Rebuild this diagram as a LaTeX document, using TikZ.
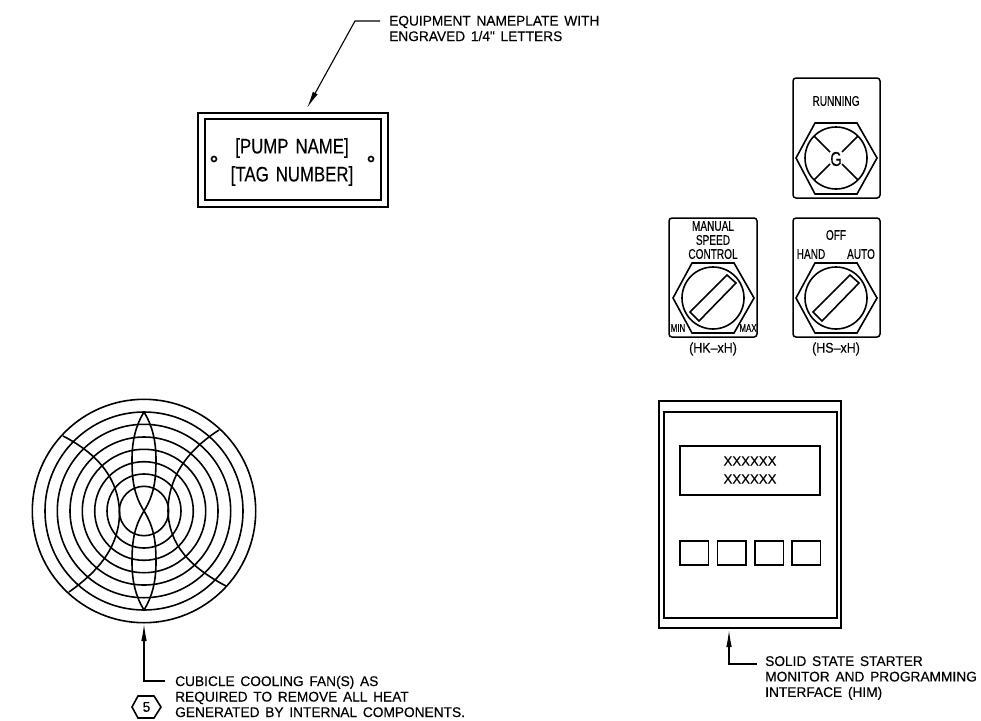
\documentclass[tikz,border=0pt]{standalone}
\usepackage{fontspec}
\setmainfont{Liberation Sans}
\newfontfamily\narrowfont[FakeStretch=0.72,FakeBold=0.3]{Liberation Sans}
\newfontfamily\tagfont[FakeStretch=0.89,FakeBold=0.2]{Liberation Sans}
\newfontfamily\cadfont[FakeStretch=0.98,WordSpace=1.5,FakeBold=0.3]{Liberation Sans}
\newfontfamily\platefont[FakeStretch=0.8,WordSpace=1.5,FakeBold=0.2]{Liberation Sans}
\usetikzlibrary{positioning,arrows.meta,calc}
\tikzset{>={Latex[length=17pt,width=5.5pt]}}
\tikzset{
  panel/.style={draw,line width=1.5pt,rounded corners=3pt},
  note/.style={font=\cadfont\fontsize{14}{15.5}\selectfont,anchor=west,inner sep=0pt,align=left},
  tiny/.style={font=\narrowfont\fontsize{14}{14}\selectfont,inner sep=0pt},
  small/.style={font=\narrowfont\fontsize{11}{11}\selectfont,inner sep=0pt},
  tagtext/.style={font=\tagfont\fontsize{14}{14}\selectfont,inner sep=0pt},
  plate/.style={font=\platefont\fontsize{21}{21}\selectfont,inner sep=0pt},
  leader/.style={line width=1.1pt},
  heavy/.style={line width=1.6pt}
}
\begin{document}
\begin{tikzpicture}[x=1pt,y=-1pt]
  \useasboundingbox (0,0) rectangle (981,720);
  % nameplate
  \draw[line width=1.7pt] (198,113) rectangle (388,207);
  \draw[line width=1.7pt] (205,119) rectangle (381,200);
  \draw[heavy] (214,159) circle (2.5);
  \draw[heavy] (371,159) circle (2.5);
  \node[plate] (pump) at (292,148) {[PUMP NAME]};
  \node[plate] (tag) at (292,176) {[TAG NUMBER]};
  \coordinate (plateTip) at (307,108);
  \coordinate (plateBend) at (355,21);
  \node[note] (plateNote) at (389,28.5) {EQUIPMENT NAMEPLATE WITH\\ENGRAVED 1/4" LETTERS};
  \draw[leader,<-] (plateTip) -- (plateBend) -- ++(25,0);
  % running light
  \node[panel,minimum width=87pt,minimum height=120pt] (light) at (836.5,138) {};
  \node[tiny] (lightText) at (836,101) {RUNNING};
  \draw[heavy] (796,158) -- (815,123) -- (857,123) -- (877,158) -- (857,194) -- (815,194) -- cycle;
  \draw[heavy] (836,158) circle (31);
  \draw[heavy] (814,136) -- (830,152) (858,136) -- (842,152) (814,180) -- (830,164) (858,180) -- (842,164);
  \node[font=\narrowfont\fontsize{20}{20}\selectfont,inner sep=0pt] (lamp) at (836,159) {G};
  % speed pot
  \node[panel,minimum width=88pt,minimum height=119pt] (pot) at (713,277.5) {};
  \node[tiny] at (713,226) {MANUAL};
  \node[tiny] at (713,240) {SPEED};
  \node[tiny] at (713,254) {CONTROL};
  \draw[heavy] (673,298) -- (692,263) -- (734,263) -- (754,298) -- (734,333) -- (692,333) -- cycle;
  \draw[heavy] (713,298) circle (31);
  \draw[heavy] (727,275) -- (736,283) -- (699,321) -- (690,312) -- cycle;
  \node[small] at (678,328) {MIN};
  \node[small] at (748,328) {MAX};
  \node[tagtext] at (713,349) {(HK–xH)};
  % selector switch
  \node[panel,minimum width=87pt,minimum height=119pt] (sel) at (836.5,277.5) {};
  \node[tiny] at (836,235) {OFF};
  \node[tiny] at (811,254) {HAND};
  \node[tiny] at (861,254) {AUTO};
  \draw[heavy] (796,298) -- (815,263) -- (857,263) -- (877,298) -- (857,333) -- (815,333) -- cycle;
  \draw[heavy] (836,298) circle (31);
  \draw[heavy] (850,275) -- (859,283) -- (822,321) -- (813,312) -- cycle;
  \node[tagtext] at (836,349) {(HS–xH)};
  % fan guard
  \foreach \ringr in {24.7,37,49.3,61.7,74,86.7,99,111.7}
    \draw[heavy] (144,511) circle (\ringr);
  \draw[heavy] (144,511) .. controls (134,495) and (132,480) .. (132,460) .. controls (132,440) and (136,425) .. (144,412);
  \draw[heavy] (144,511) .. controls (154,495) and (156,480) .. (156,460) .. controls (156,440) and (152,425) .. (144,412);
  \draw[heavy] (144,511) .. controls (134,527) and (132,542) .. (132,562) .. controls (132,582) and (136,597) .. (144,610);
  \draw[heavy] (144,511) .. controls (154,527) and (156,542) .. (156,562) .. controls (156,582) and (152,597) .. (144,610);
  \draw[heavy] (168,511) .. controls (168,485) and (180,455) .. (219,430);
  \draw[heavy] (119.5,511) .. controls (118,480) and (100,455) .. (63,436);
  \draw[heavy] (119.5,511) .. controls (120,545) and (100,570) .. (69,592);
  \draw[heavy] (168,511) .. controls (169,545) and (190,567) .. (226,586);
  \coordinate (fanTip) at (144,624);
  \coordinate (fanBend) at (144,681);
  \coordinate (fanEnd) at (165,681);
  \draw[leader,<-] (fanTip) -- (fanBend) -- (fanEnd);
  \node[note] (fanNote) at (175,696.5) {CUBICLE COOLING FAN(S) AS\\REQUIRED TO REMOVE ALL HEAT\\GENERATED BY INTERNAL COMPONENTS.};
  \draw[heavy] (132,707) -- (138,696) -- (154,696) -- (161,707) -- (154,718) -- (138,718) -- cycle;
  \node[font=\cadfont\fontsize{14}{14}\selectfont,inner sep=0pt] (keyFive) at (146.5,707) {5};
  % operator interface
  \draw[leader] (659,401) rectangle (841,628);
  \draw[heavy] (664,412) rectangle (837,618);
  \draw[heavy] (680,446) rectangle (820,495);
  \node[font=\cadfont\fontsize{13.5}{13.5}\selectfont,inner sep=0pt] (lineOne) at (750,461) {XXXXXX};
  \node[font=\cadfont\fontsize{13.5}{13.5}\selectfont,inner sep=0pt] (lineTwo) at (750,479) {XXXXXX};
  \foreach \keyx in {680,717.5,755,792}
    \draw[heavy] (\keyx,541) rectangle ++(28.5,24);
  \coordinate (himTip) at (729,630);
  \coordinate (himBend) at (729,664);
  \coordinate (himEnd) at (757,664);
  \draw[leader,<-] (himTip) -- (himBend) -- (himEnd);
  \node[note] (himNote) at (765,678) {SOLID STATE STARTER\\MONITOR AND PROGRAMMING\\INTERFACE (HIM)};
\end{tikzpicture}
\end{document}
